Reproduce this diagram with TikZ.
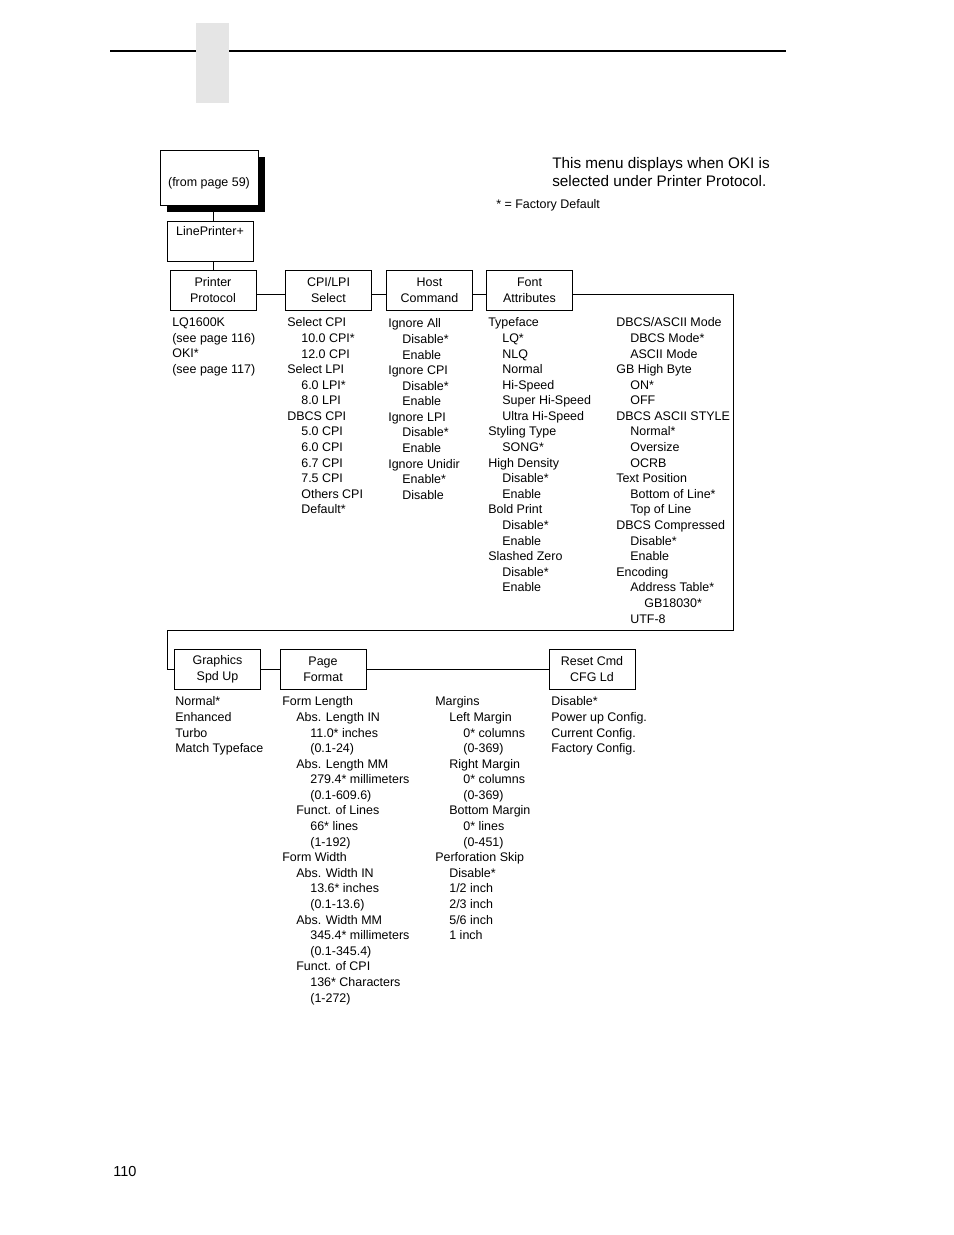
\documentclass[tikz,border=0pt]{standalone}
\usepackage{fontspec}
\setmainfont{Liberation Sans}
\usepackage{tikz}
\usetikzlibrary{positioning, shadows, calc}
\tikzstyle{menubox} = [rectangle, draw=black, line width=0.6pt, minimum width=55.2pt, minimum height=25.7pt, inner sep=1pt, align=center, font=\fontsize{8}{10}\selectfont]
\tikzstyle{startbox} = [menubox, minimum width=62.9pt, minimum height=35.3pt, fill=white, drop shadow={shadow xshift=4.5pt, shadow yshift=-4.5pt, fill=black, opacity=1}]
\tikzstyle{optlist} = [anchor=north west, inner sep=0pt, align=left, font=\fontsize{8}{10}\selectfont]
\tikzstyle{conn} = [line width=0.6pt]
\newcommand{\optin}{\hspace*{9pt}}
\newcommand{\optinn}{\hspace*{18pt}}

\begin{document}
\begin{tikzpicture}[x=0.6415pt, y=-0.6415pt]
    \useasboundingbox (0,0) rectangle (954,1235);

    % Kopfzeile
    \draw[line width=1.4pt] (110,51) -- (786,51);
    \fill[black!10] (196,23) rectangle (229,103);
    \node (pagenum) [optlist, font=\fontsize{9.3}{11}\selectfont] at (113,1166) {110};

    % Hinweise
    \node (note) [optlist, font=\fontsize{9.8}{11.5}\selectfont] at (552,157.5) {This menu displays when OKI is\\selected under Printer Protocol.};
    \node (legend) [optlist] at (496,199.5) {* = Factory Default};

    % Einstieg
    \node (fromp) [startbox, text height=11.5pt, text depth=0pt] at (209,177.5) {(from page 59)};
    \node (lp) [menubox, text height=0pt, text depth=7pt] at (210,241) {LinePrinter+};

    % Erste Reihe
    \node (proto) [menubox] at (213,290) {Printer\\Protocol};
    \node (cpi) [menubox] at (328.5,290) {CPI/LPI\\Select};
    \node (host) [menubox] at (429.5,290) {Host\\Command};
    \node (font) [menubox] at (529.5,290) {Font\\Attributes};

    % Zweite Reihe
    \node (gfx) [menubox] at (217.5,669) {Graphics\\Spd Up};
    \node (pagef) [menubox] at (323,669) {Page\\Format};
    \node (reset) [menubox] at (592,669) {Reset Cmd\\CFG Ld};

    % Optionen
    \node (protolist) [optlist] at (172,317.5) {LQ1600K\\(see page 116)\\OKI*\\(see page 117)};
    \node (cpilist) [optlist] at (287,317.5) {Select CPI\\\optin 10.0 CPI*\\\optin 12.0 CPI\\Select LPI\\\optin 6.0 LPI*\\\optin 8.0 LPI\\DBCS CPI\\\optin 5.0 CPI\\\optin 6.0 CPI\\\optin 6.7 CPI\\\optin 7.5 CPI\\\optin Others CPI\\\optin Default*};
    \node (hostlist) [optlist] at (388,318.5) {Ignore All\\\optin Disable*\\\optin Enable\\Ignore CPI\\\optin Disable*\\\optin Enable\\Ignore LPI\\\optin Disable*\\\optin Enable\\Ignore Unidir\\\optin Enable*\\\optin Disable};
    \node (fontlist) [optlist] at (488,317.5) {Typeface\\\optin LQ*\\\optin NLQ\\\optin Normal\\\optin Hi-Speed\\\optin Super Hi-Speed\\\optin Ultra Hi-Speed\\Styling Type\\\optin SONG*\\High Density\\\optin Disable*\\\optin Enable\\Bold Print\\\optin Disable*\\\optin Enable\\Slashed Zero\\\optin Disable*\\\optin Enable};
    \node (dbcslist) [optlist] at (616,317.5) {DBCS/ASCII Mode\\\optin DBCS Mode*\\\optin ASCII Mode\\GB High Byte\\\optin ON*\\\optin OFF\\DBCS ASCII STYLE\\\optin Normal*\\\optin Oversize\\\optin OCRB\\Text Position\\\optin Bottom of Line*\\\optin Top of Line\\DBCS Compressed\\\optin Disable*\\\optin Enable\\Encoding\\\optin Address Table*\\\optinn GB18030*\\\optin UTF-8};
    \node (gfxlist) [optlist] at (175,696.5) {Normal*\\Enhanced\\Turbo\\Match Typeface};
    \node (pagelist) [optlist] at (282,696.5) {Form Length\\\optin Abs. Length IN\\\optinn 11.0* inches\\\optinn (0.1-24)\\\optin Abs. Length MM\\\optinn 279.4* millimeters\\\optinn (0.1-609.6)\\\optin Funct. of Lines\\\optinn 66* lines\\\optinn (1-192)\\Form Width\\\optin Abs. Width IN\\\optinn 13.6* inches\\\optinn (0.1-13.6)\\\optin Abs. Width MM\\\optinn 345.4* millimeters\\\optinn (0.1-345.4)\\\optin Funct. of CPI\\\optinn 136* Characters\\\optinn (1-272)};
    \node (marginlist) [optlist] at (435,696.5) {Margins\\\optin Left Margin\\\optinn 0* columns\\\optinn (0-369)\\\optin Right Margin\\\optinn 0* columns\\\optinn (0-369)\\\optin Bottom Margin\\\optinn 0* lines\\\optinn (0-451)\\Perforation Skip\\\optin Disable*\\\optin 1/2 inch\\\optin 2/3 inch\\\optin 5/6 inch\\\optin 1 inch};
    \node (resetlist) [optlist] at (551,696.5) {Disable*\\Power up Config.\\Current Config.\\Factory Config.};

    % Verbindungen
    \coordinate (cornerR) at (733,630);
    \coordinate (cornerL) at (167,630);
    \draw [conn] (proto.north |- fromp.south) -- (proto.north |- lp.north);
    \draw [conn] (proto.north |- lp.south) -- (proto.north);
    \draw [conn] ([yshift=-3pt]proto.east) -- ([yshift=-3pt]cpi.west);
    \draw [conn] ([yshift=-3pt]cpi.east) -- ([yshift=-3pt]host.west);
    \draw [conn] ([yshift=-3pt]host.east) -- ([yshift=-3pt]font.west);
    \draw [conn] ([yshift=-3pt]font.east) -| (cornerR) -- (cornerL) |- (gfx.west);
    \draw [conn] (gfx) -- (pagef);
    \draw [conn] (pagef) -- (reset);
\end{tikzpicture}
\end{document}
